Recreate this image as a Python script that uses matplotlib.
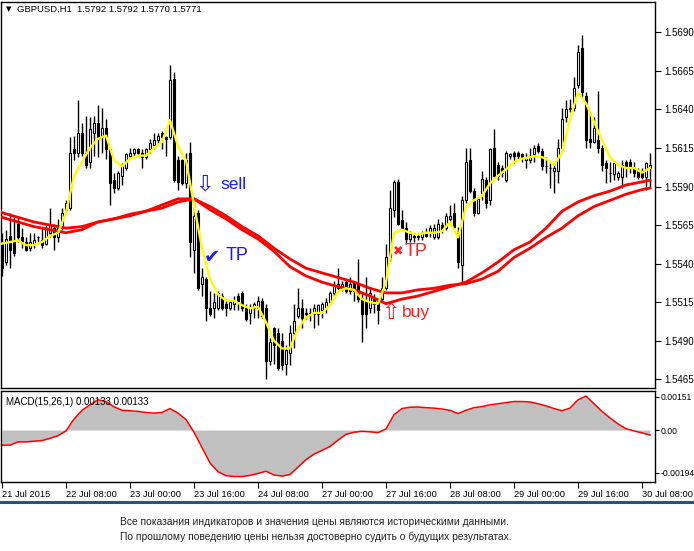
import numpy as np
import matplotlib
matplotlib.use('Agg')
import matplotlib.pyplot as plt
from matplotlib.lines import Line2D

# GBPUSD H1 bars (index 0 = 21 Jul 16:00)
opens = [1.5553,1.5541,1.5558,1.5555,1.5566,1.5557,1.5554,1.5550,1.5553,1.5557,
         1.5555,1.5553,1.5560,1.5563,1.5557,1.5563,1.5575,1.5576,1.5614,1.5612,
         1.5625,1.5612,1.5606,1.5625,1.5631,1.5622,1.5628,1.5614,1.5594,1.5589,
         1.5597,1.5602,1.5610,1.5612,1.5614,1.5612,1.5609,1.5614,1.5617,1.5620,
         1.5625,1.5622,1.5622,1.5660,1.5607,1.5607,1.5592,1.5612,1.5549,1.5573,
         1.5527,1.5530,1.5511,1.5511,1.5511,1.5519,1.5514,1.5511,1.5514,1.5519,
         1.5521,1.5511,1.5508,1.5511,1.5511,1.5516,1.5511,1.5477,1.5498,1.5495,
         1.5490,1.5475,1.5482,1.5495,1.5506,1.5511,1.5507,1.5508,1.5507,1.5507,
         1.5510,1.5511,1.5515,1.5521,1.5524,1.5524,1.5528,1.5522,1.5528,1.5526,
         1.5518,1.5516,1.5511,1.5518,1.5517,1.5517,1.5524,1.5544,1.5575,1.5593,
         1.5568,1.5563,1.5556,1.5558,1.5557,1.5557,1.5560,1.5560,1.5557,1.5557,
         1.5565,1.5563,1.5569,1.5573,1.5560,1.5539,1.5581,1.5607,1.5587,1.5573,
         1.5586,1.5594,1.5581,1.5615,1.5604,1.5602,1.5594,1.5610,1.5612,1.5612,
         1.5611,1.5607,1.5607,1.5611,1.5616,1.5613,1.5603,1.5602,1.5600,1.5600,
         1.5615,1.5635,1.5640,1.5641,1.5656,1.5680,1.5649,1.5621,1.5619,1.5620,
         1.5615,1.5605,1.5599,1.5598,1.5596,1.5596,1.5606,1.5606,1.5602,1.5600,
         1.5599,1.5596,1.5602]
highs = [1.5560,1.5562,1.5573,1.5570,1.5571,1.5563,1.5557,1.5560,1.5560,1.5558,
         1.5563,1.5565,1.5576,1.5566,1.5569,1.5576,1.5581,1.5622,1.5623,1.5646,
         1.5631,1.5636,1.5635,1.5636,1.5643,1.5641,1.5634,1.5615,1.5599,1.5600,
         1.5605,1.5612,1.5615,1.5615,1.5615,1.5614,1.5615,1.5621,1.5625,1.5625,
         1.5626,1.5623,1.5669,1.5664,1.5610,1.5608,1.5612,1.5619,1.5579,1.5575,
         1.5537,1.5531,1.5522,1.5521,1.5522,1.5521,1.5517,1.5516,1.5519,1.5521,
         1.5522,1.5514,1.5514,1.5515,1.5519,1.5518,1.5514,1.5492,1.5499,1.5498,
         1.5495,1.5487,1.5500,1.5514,1.5524,1.5517,1.5511,1.5511,1.5514,1.5514,
         1.5515,1.5518,1.5522,1.5529,1.5537,1.5529,1.5530,1.5531,1.5529,1.5543,
         1.5521,1.5531,1.5524,1.5520,1.5518,1.5531,1.5553,1.5588,1.5594,1.5595,
         1.5575,1.5567,1.5561,1.5560,1.5560,1.5561,1.5563,1.5565,1.5566,1.5569,
         1.5567,1.5573,1.5578,1.5579,1.5564,1.5584,1.5615,1.5615,1.5589,1.5583,
         1.5600,1.5596,1.5615,1.5627,1.5606,1.5604,1.5613,1.5612,1.5613,1.5613,
         1.5612,1.5612,1.5615,1.5617,1.5618,1.5615,1.5609,1.5606,1.5605,1.5621,
         1.5641,1.5646,1.5647,1.5661,1.5682,1.5688,1.5651,1.5638,1.5635,1.5652,
         1.5617,1.5607,1.5606,1.5606,1.5600,1.5607,1.5607,1.5608,1.5606,1.5602,
         1.5602,1.5606,1.5612]
lows = [1.5532,1.5539,1.5537,1.5545,1.5554,1.5550,1.5548,1.5548,1.5550,1.5554,
        1.5550,1.5552,1.5557,1.5549,1.5554,1.5562,1.5573,1.5575,1.5607,1.5609,
        1.5610,1.5602,1.5602,1.5610,1.5609,1.5612,1.5608,1.5578,1.5586,1.5588,
        1.5591,1.5601,1.5608,1.5609,1.5610,1.5602,1.5608,1.5612,1.5614,1.5617,
        1.5614,1.5610,1.5621,1.5593,1.5588,1.5591,1.5589,1.5544,1.5534,1.5523,
        1.5519,1.5503,1.5506,1.5505,1.5510,1.5510,1.5506,1.5510,1.5510,1.5510,
        1.5509,1.5503,1.5501,1.5505,1.5505,1.5505,1.5465,1.5474,1.5475,1.5471,
        1.5471,1.5468,1.5474,1.5485,1.5505,1.5498,1.5504,1.5503,1.5498,1.5500,
        1.5505,1.5508,1.5514,1.5518,1.5522,1.5522,1.5521,1.5520,1.5516,1.5515,
        1.5489,1.5498,1.5508,1.5508,1.5501,1.5515,1.5523,1.5542,1.5570,1.5565,
        1.5562,1.5553,1.5554,1.5554,1.5555,1.5555,1.5557,1.5557,1.5556,1.5556,
        1.5560,1.5562,1.5567,1.5563,1.5537,1.5527,1.5579,1.5586,1.5571,1.5572,
        1.5581,1.5576,1.5578,1.5596,1.5594,1.5596,1.5593,1.5608,1.5605,1.5608,
        1.5606,1.5602,1.5605,1.5606,1.5612,1.5601,1.5599,1.5589,1.5586,1.5592,
        1.5613,1.5632,1.5638,1.5639,1.5654,1.5648,1.5615,1.5615,1.5618,1.5612,
        1.5600,1.5592,1.5593,1.5594,1.5594,1.5589,1.5596,1.5599,1.5596,1.5595,
        1.5595,1.5588,1.5589]
closes = [1.5537,1.5556,1.5549,1.5547,1.5557,1.5554,1.5549,1.5554,1.5555,1.5557,
          1.5552,1.5563,1.5565,1.5557,1.5563,1.5573,1.5579,1.5612,1.5612,1.5625,
          1.5612,1.5604,1.5627,1.5631,1.5622,1.5628,1.5614,1.5592,1.5589,1.5599,
          1.5604,1.5611,1.5612,1.5614,1.5612,1.5609,1.5614,1.5618,1.5620,1.5623,
          1.5622,1.5621,1.5659,1.5594,1.5593,1.5592,1.5607,1.5554,1.5571,1.5524,
          1.5531,1.5511,1.5507,1.5515,1.5521,1.5511,1.5511,1.5515,1.5516,1.5516,
          1.5511,1.5504,1.5511,1.5514,1.5516,1.5506,1.5477,1.5489,1.5487,1.5472,
          1.5474,1.5484,1.5495,1.5503,1.5511,1.5505,1.5508,1.5507,1.5511,1.5513,
          1.5514,1.5515,1.5521,1.5526,1.5527,1.5527,1.5522,1.5527,1.5522,1.5517,
          1.5507,1.5507,1.5521,1.5514,1.5510,1.5524,1.5544,1.5576,1.5593,1.5566,
          1.5563,1.5556,1.5559,1.5557,1.5558,1.5560,1.5558,1.5563,1.5563,1.5566,
          1.5562,1.5571,1.5571,1.5564,1.5541,1.5581,1.5606,1.5587,1.5573,1.5582,
          1.5595,1.5579,1.5614,1.5597,1.5597,1.5599,1.5612,1.5611,1.5610,1.5610,
          1.5609,1.5609,1.5610,1.5615,1.5613,1.5603,1.5603,1.5602,1.5602,1.5615,
          1.5634,1.5640,1.5641,1.5654,1.5677,1.5651,1.5620,1.5619,1.5628,1.5615,
          1.5604,1.5602,1.5599,1.5605,1.5599,1.5604,1.5602,1.5602,1.5599,1.5596,
          1.5596,1.5605,1.5604]

# yellow MA, every 2nd bar
ma_fast_x = list(range(0, 163, 2))
ma_fast = [1.5553,1.5554,1.5555,1.5552,1.5552,1.5554,1.5558,1.5560,1.5573,1.5597,
           1.5606,1.5615,1.5621,1.5623,1.5607,1.5603,1.5608,1.5610,1.5610,1.5615,
           1.5619,1.5633,1.5616,1.5607,1.5578,1.5550,1.5530,1.5520,1.5516,1.5516,
           1.5513,1.5511,1.5512,1.5502,1.5490,1.5485,1.5485,1.5498,1.5505,1.5508,
           1.5508,1.5513,1.5522,1.5524,1.5523,1.5517,1.5515,1.5514,1.5528,1.5560,
           1.5562,1.5560,1.5559,1.5560,1.5560,1.5561,1.5567,1.5557,1.5577,1.5581,
           1.5584,1.5592,1.5597,1.5601,1.5606,1.5608,1.5609,1.5610,1.5608,1.5604,
           1.5612,1.5634,1.5651,1.5644,1.5632,1.5620,1.5609,1.5604,1.5602,1.5602,
           1.5599,1.5602]

# the two red MAs, every 4th bar
ma_red_x = list(range(0, 161, 4)) + [162]
ma_red1 = [1.5570,1.5567,1.5564,1.5562,1.5560,1.5562,1.5567,1.5569,1.5572,1.5574,
           1.5578,1.5582,1.5582,1.5575,1.5569,1.5562,1.5556,1.5548,1.5538,1.5532,
           1.5528,1.5525,1.5523,1.5519,1.5514,1.5517,1.5519,1.5522,1.5525,1.5528,
           1.5534,1.5541,1.5549,1.5554,1.5563,1.5574,1.5580,1.5584,1.5587,1.5591,
           1.5593,1.5594]
ma_red2 = [1.5573,1.5570,1.5567,1.5565,1.5563,1.5564,1.5567,1.5569,1.5571,1.5574,
           1.5576,1.5580,1.5582,1.5577,1.5571,1.5564,1.5558,1.5550,1.5543,1.5537,
           1.5534,1.5531,1.5528,1.5524,1.5521,1.5521,1.5523,1.5524,1.5526,1.5527,
           1.5530,1.5535,1.5544,1.5550,1.5557,1.5563,1.5571,1.5577,1.5581,1.5585,
           1.5588,1.5589]

# MACD(15,26,1), every 2nd bar
macd_x = list(range(0, 163, 2))
macd = [-0.00069,-0.00069,-0.00054,-0.00054,-0.00051,-0.00048,-0.00038,-0.00026,-0.00004,0.00050,
        0.00090,0.00115,0.00138,0.00130,0.00106,0.00090,0.00088,0.00085,0.00080,0.00077,
        0.00080,0.00098,0.00077,0.00048,-0.00010,-0.00080,-0.00150,-0.00190,-0.00208,-0.00212,
        -0.00212,-0.00207,-0.00198,-0.00188,-0.00205,-0.00210,-0.00203,-0.00169,-0.00135,-0.00110,
        -0.00093,-0.00075,-0.00046,-0.00020,-0.00010,-0.00006,-0.00008,-0.00012,0.00005,0.00070,
        0.00098,0.00104,0.00105,0.00102,0.00100,0.00096,0.00090,0.00075,0.00090,0.00102,
        0.00107,0.00115,0.00120,0.00125,0.00130,0.00130,0.00128,0.00120,0.00110,0.00098,
        0.00088,0.00100,0.00138,0.00155,0.00120,0.00085,0.00055,0.00028,0.00006,-0.00004,
        -0.00013,-0.00023]

price_ticks = [1.5465, 1.5490, 1.5515, 1.5540, 1.5565, 1.5590, 1.5615, 1.5640, 1.5665, 1.5690]
date_pos = [0, 16, 32, 48, 64, 80, 96, 112, 128, 144, 160]
date_labels = ['21 Jul 2015', '22 Jul 08:00', '23 Jul 00:00', '23 Jul 16:00', '24 Jul 08:00',
               '27 Jul 00:00', '27 Jul 16:00', '28 Jul 08:00', '29 Jul 00:00', '29 Jul 16:00',
               '30 Jul 08:00']

W, H = 694, 551
plt.rcParams['font.family'] = ['Liberation Sans', 'DejaVu Sans']
fig = plt.figure(figsize=(W/100, H/100), dpi=100)
fig.patch.set_facecolor('white')

def box(x0, y0, x1, y1):
    # pixel box -> figure fraction
    return [x0/W, 1 - y1/H, (x1-x0)/W, (y1-y0)/H]

ax = fig.add_axes(box(1, 2, 655, 388))
ax2 = fig.add_axes(box(1, 391, 655, 482))

idx = np.arange(len(closes))
o = np.array(opens); c = np.array(closes)
up = c >= o
ax.vlines(idx, lows, highs, color='black', lw=1, zorder=2)
ax.bar(idx, np.abs(c-o), bottom=np.minimum(o, c), width=0.55,
       color=np.where(up, 'white', 'black'), edgecolor='black', lw=0.8, zorder=3)

ax.plot(ma_red_x, ma_red1, color='#ff0000', lw=2.0, zorder=4)
ax.plot(ma_red_x, ma_red2, color='#ff0000', lw=2.0, zorder=4)
ax.plot(ma_fast_x, ma_fast, color='#ffff00', lw=1.7, zorder=5)

ax.set_xlim(-0.25, 163.25)
ax.set_ylim(1.545933, 1.570965)
ax.set_xticks([])
ax.yaxis.tick_right()
ax.set_yticks(price_ticks)
ax.set_yticklabels(['%.4f' % p for p in price_ticks])
ax.tick_params(axis='y', direction='out', length=4, width=0.8, pad=3, labelsize=7, colors='black')

# trade annotations
sym = ['DejaVu Sans']
ax.text(50.75, 1.5591, '\u21e9', color='#1a1aff', fontsize=16, family=sym, ha='center', va='center', zorder=6)
ax.text(54.5, 1.5591, 'sell', color='#1a1aff', fontsize=12.5, ha='left', va='center', zorder=6)
ax.text(52.5, 1.5544, '\u2714', color='#1a1aff', fontsize=14, family=sym, ha='center', va='center', zorder=6)
ax.text(56, 1.5545, 'TP', color='#1a1aff', fontsize=13, ha='left', va='center', zorder=6)
ax.text(99, 1.5548, '\u2716', color='#ff2020', fontsize=9, family=sym, ha='center', va='center', zorder=6)
ax.text(100.75, 1.5548, 'TP', color='#ff2020', fontsize=13, ha='left', va='center', zorder=6)
ax.text(97.25, 1.5508, '\u21e7', color='#ff2020', fontsize=16, family=sym, ha='center', va='center', zorder=6)
ax.text(100, 1.5508, 'buy', color='#ff2020', fontsize=12.5, ha='left', va='center', zorder=6)

# MACD panel
ax2.fill_between(macd_x, 0, macd, color='#c0c0c0', lw=0)
ax2.plot(macd_x, macd, color='#ff0000', lw=1.1)
ax2.set_xlim(-0.25, 163.25)
ax2.set_ylim(-0.00237, 0.00178)
ax2.yaxis.tick_right()
ax2.set_yticks([0.00151, 0.0, -0.00194])
ax2.set_yticklabels(['0.00151', '0.00', '-0.00194'])
ax2.tick_params(axis='y', direction='out', length=3, width=0.8, pad=1, labelsize=6.2)
ax2.set_xticks(date_pos)
ax2.set_xticklabels(date_labels, ha='left')
ax2.tick_params(axis='x', direction='out', length=4, width=0.8, pad=2, labelsize=6.7)
ax2.text(0.008, 0.93, 'MACD(15,26,1) 0.00133 0.00133', transform=ax2.transAxes,
         fontsize=7, ha='left', va='top')

for a in (ax, ax2):
    for s in a.spines.values():
        s.set_linewidth(1)
        s.set_color('black')

# header
fig.text(6/W, 1-9/H, '\u25bc', fontsize=5, family=sym, va='center', ha='left')
fig.text(17/W, 1-9/H, 'GBPUSD,H1  1.5792 1.5792 1.5770 1.5771', fontsize=6.8, va='center', ha='left')

# separator and disclaimer
fig.add_artist(Line2D([0, 1], [1-502/H, 1-502/H], transform=fig.transFigure, color='#27557a', lw=2.2))
fig.text(120/W, 1-522/H, 'Все показания индикаторов и значения цены являются историческими данными.',
         fontsize=7.4, color='#222222', va='center', ha='left')
fig.text(120/W, 1-537/H, 'По прошлому поведению цены нельзя достоверно судить о будущих результатах.',
         fontsize=7.4, color='#222222', va='center', ha='left')

fig.savefig('out.png', dpi=100)
